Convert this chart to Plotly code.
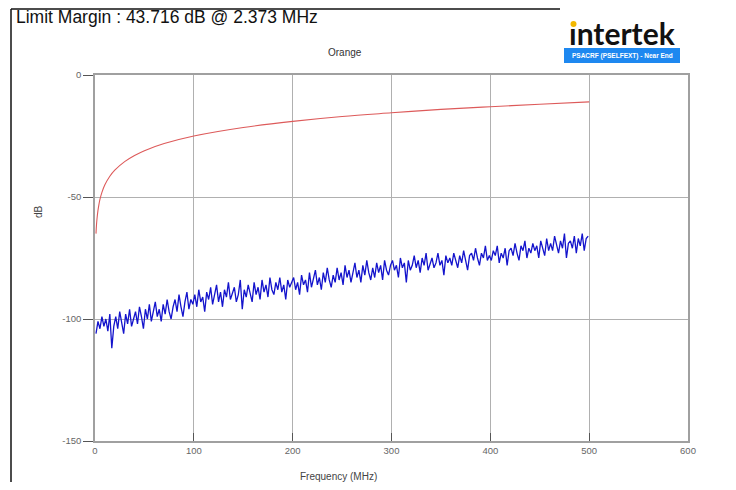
import plotly.graph_objects as go

# ---- data ----
limit_freq = [1, 1.5, 2, 3, 4, 5, 7, 10, 15, 20, 30, 40, 50, 70, 100, 150, 200,
              250, 300, 350, 400, 450, 500]
limit_db = [-65.0, -61.5, -59.0, -55.5, -53.0, -51.0, -48.1, -45.0, -41.5, -39.0,
            -35.5, -33.0, -31.0, -28.1, -25.0, -21.5, -19.0, -17.0, -15.5, -14.1,
            -13.0, -12.0, -11.0]

meas_f_start = 1
meas_f_step = 2
meas_db = [
    -106, -101, -104, -99, -103, -100, -105, -98, -112, -103,
    -99, -104, -97, -101, -106, -98, -102, -96, -103, -100,
    -97, -102, -95, -99, -104, -96, -100, -94, -101, -97,
    -93, -99, -96, -101, -94, -98, -92, -97, -100, -95,
    -92, -97, -90, -95, -99, -93, -89, -96, -92, -94,
    -90, -95, -88, -93, -91, -97, -89, -92, -87, -94,
    -90, -86, -93, -89, -95, -88, -91, -85, -92, -89,
    -87, -93, -90, -84, -96, -88, -91, -86, -89, -93,
    -85, -90, -87, -92, -84, -89, -86, -91, -83, -88,
    -90, -85, -88, -83, -89, -86, -92, -84, -87, -85,
    -83, -88, -85, -90, -82, -86, -84, -89, -81, -87,
    -84, -80, -86, -83, -88, -81, -85, -79, -84, -87,
    -82, -85, -79, -84, -81, -86, -78, -83, -80, -85,
    -81, -77, -83, -80, -85, -78, -82, -76, -81, -84,
    -79, -83, -77, -81, -78, -84, -76, -80, -82, -78,
    -76, -80, -78, -83, -75, -79, -77, -85, -76, -80,
    -78, -74, -79, -76, -81, -75, -78, -73, -80, -77,
    -75, -79, -77, -73, -78, -76, -82, -74, -77, -75,
    -78, -73, -76, -79, -74, -77, -72, -76, -80, -74,
    -73, -76, -71, -75, -78, -73, -75, -70, -76, -74,
    -76, -72, -74, -70, -77, -73, -75, -71, -78, -72,
    -71, -74, -69, -73, -76, -70, -72, -68, -75, -71,
    -73, -69, -72, -70, -75, -68, -71, -74, -67, -72,
    -69, -72, -66, -70, -73, -68, -71, -65, -75, -69,
    -68, -71, -66, -73, -67, -70, -65, -72, -67, -66,
]
meas_freq = [meas_f_start + meas_f_step * i for i in range(len(meas_db))]

x_ticks = [0, 100, 200, 300, 400, 500, 600]
y_ticks = [0, -50, -100, -150]

title_text = "Orange"
margin_text = "Limit Margin : 43.716 dB @ 2.373 MHz"
badge_text = "PSACRF (PSELFEXT) - Near End"

# page has an 8px body margin; figure coordinates are offset by it
OFF = 8
W, H = 720, 474
L, R, T, B = 87, 40, 67, 41
PW, PH = W - L - R, H - T - B

fig = go.Figure()
fig.add_trace(go.Scatter(x=meas_freq, y=meas_db, mode="lines",
                         line=dict(color="#1414cc", width=1.3), hoverinfo="skip"))
fig.add_trace(go.Scatter(x=limit_freq, y=limit_db, mode="lines",
                         line=dict(color="#dd5a5a", width=1.1, shape="spline"),
                         hoverinfo="skip"))

font = "Arial, Liberation Sans, sans-serif"
fig.update_layout(
    width=W, height=H, showlegend=False,
    margin=dict(l=L, r=R, t=T, b=B),
    paper_bgcolor="white", plot_bgcolor="white",
    font=dict(family=font, color="#555555", size=10),
)
fig.update_xaxes(range=[0, 600], tickvals=x_ticks, ticktext=[str(v) for v in x_ticks],
                 showgrid=True, gridcolor="#b0b0b0", gridwidth=1,
                 showline=True, linecolor="#a0a0a0", linewidth=1.5, mirror=True,
                 ticks="inside", ticklen=8, tickcolor="#555555", tickwidth=1,
                 zeroline=False, tickfont=dict(size=9.5, color="#666666"))
fig.update_yaxes(range=[-150, 0], tickvals=y_ticks, ticktext=[str(v) for v in y_ticks],
                 showgrid=True, gridcolor="#b0b0b0", gridwidth=1,
                 showline=True, linecolor="#a0a0a0", linewidth=1.5, mirror=True,
                 ticks="outside", ticklen=10, tickcolor="#555555", tickwidth=1,
                 zeroline=False, tickfont=dict(size=9.5, color="#666666"))


def px(x):
    return (x - OFF - L) / PW


def py(y):
    return 1 - (y - OFF - T) / PH


ann = [
    dict(text=margin_text, x=px(14), y=py(17), xanchor="left", yanchor="middle",
         font=dict(size=17.5, color="#111111")),
    dict(text=title_text, x=px(345), y=py(53), xanchor="center", yanchor="middle",
         font=dict(size=10, color="#333333")),
    dict(text="Frequency (MHz)", x=px(338), y=py(476), xanchor="center", yanchor="middle",
         font=dict(size=10, color="#444444")),
    dict(text="dB", x=px(38), y=py(212), xanchor="center", yanchor="middle",
         textangle=-90, font=dict(size=10, color="#444444")),
    dict(text="<b>\u0131ntertek</b>", x=px(622), y=py(33), xanchor="center", yanchor="middle",
         font=dict(size=30, color="#111111", family="Lato, Inter, sans-serif")),
    dict(text="<b>" + badge_text + "</b>", x=px(622), y=py(55.5), xanchor="center",
         yanchor="middle", font=dict(size=6.5, color="white")),
]
for a in ann:
    a.update(xref="paper", yref="paper", showarrow=False)
    fig.add_annotation(**a)

shapes = [
    dict(type="rect", x0=px(564), x1=px(680), y0=py(48), y1=py(63),
         fillcolor="#1e88f0", line=dict(width=0), layer="below"),
    dict(type="circle", x0=px(570.5), x1=px(576.5), y0=py(21), y1=py(27),
         fillcolor="#f2b800", line=dict(width=0)),
    dict(type="line", x0=px(11), x1=px(11), y0=py(9), y1=py(482),
         line=dict(color="#111111", width=1.5)),
    dict(type="line", x0=px(11), x1=px(560), y0=py(9), y1=py(9),
         line=dict(color="#111111", width=1.5)),
]
for s in shapes:
    s.update(xref="paper", yref="paper")
    fig.add_shape(**s)

fig.write_html("out.html")
